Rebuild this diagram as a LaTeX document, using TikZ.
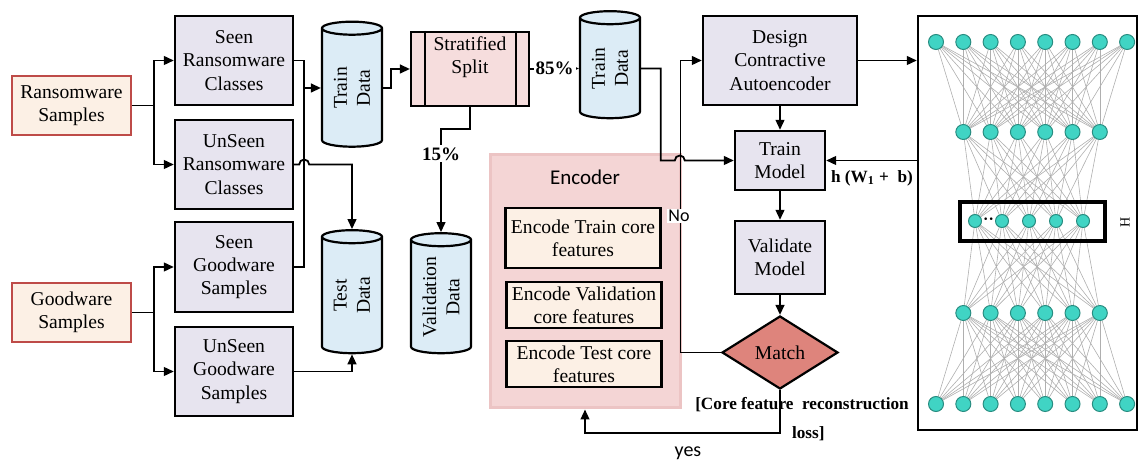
\documentclass[tikz,border=0pt]{standalone}
\usepackage{fontspec}
\setmainfont{Liberation Serif}
\newfontfamily\calfont{Carlito}
\usetikzlibrary{shapes.geometric,arrows.meta,calc,backgrounds}
\definecolor{lav}{RGB}{231,228,239}
\definecolor{peach}{RGB}{252,240,229}
\definecolor{redb}{RGB}{190,75,72}
\definecolor{cylb}{RGB}{220,236,246}
\definecolor{splitpink}{RGB}{246,221,221}
\definecolor{matchred}{RGB}{222,132,124}
\definecolor{encpink}{RGB}{244,213,213}
\definecolor{encedge}{RGB}{236,196,196}
\definecolor{neuron}{RGB}{64,212,196}
\definecolor{neuronb}{RGB}{40,140,128}
\definecolor{edgegray}{RGB}{175,175,175}
\begin{document}
\begin{tikzpicture}[x=0.5pt,y=-0.5pt,
 font=\fontsize{9.8}{11.6}\selectfont,
 wire/.style={line width=0.9pt},
 conn/.style={line width=0.9pt,-{Triangle[length=5pt,width=4.4pt]}},
 pbox/.style={draw=black,line width=1.2pt,fill=lav,align=center,inner sep=0pt,minimum width=59pt},
 src/.style={draw=redb,line width=1.1pt,fill=peach,align=center,inner sep=0pt,minimum width=59.5pt,minimum height=29.5pt},
 cyl/.style={cylinder,shape border rotate=90,draw=black,line width=1.1pt,fill=cylb,aspect=0.25,inner sep=0pt,minimum width=30pt},
 cyltext/.style={rotate=90,align=center,inner sep=0pt},
 ebox/.style={draw=black,line width=1.1pt,fill=peach,align=center,inner sep=0pt,minimum width=77.5pt},
 neu/.style={circle,draw=neuronb,line width=0.5pt,fill=neuron,inner sep=0pt,minimum size=7.5pt},
 neus/.style={neu,minimum size=6.5pt},
 syn/.style={draw=edgegray,line width=0.3pt},
 lbl/.style={font=\fontsize{9.5}{11}\selectfont\bfseries},
]
\useasboundingbox (0,0) rectangle (1146,464);

% left column
\node[src] (ransom) at (71.5,105.5) {Ransomware\\Samples};
\node[src] (good) at (71.5,312.5) {Goodware\\Samples};
\node[pbox,minimum height=44.5pt] (seenR) at (234,60.5) {Seen\\Ransomware\\Classes};
\node[pbox,minimum height=44.5pt] (unseenR) at (234,164.5) {UnSeen\\Ransomware\\Classes};
\node[pbox,minimum height=45pt] (seenG) at (234,267) {Seen\\Goodware\\Samples};
\node[pbox,minimum height=44.5pt] (unseenG) at (234,371.5) {UnSeen\\Goodware\\Samples};

% data
\node[cyl,minimum height=62.5pt] (train1) at (352,88) {\hspace*{26pt}};
\node[cyltext] (train1T) at (train1.center) {Train\\Data};
\node[cyl,minimum height=61.5pt] (test) at (352,295.5) {\hspace*{26pt}};
\node[cyltext] (testT) at (test.center) {Test\\Data};
\node[draw=black,line width=1.1pt,fill=splitpink,minimum width=59pt,minimum height=37pt,inner sep=0pt] (split) at (470,69) {};
\draw[line width=1.1pt] ($(split.north west)+(15,0)$) -- ($(split.south west)+(15,0)$);
\draw[line width=1.1pt] ($(split.north east)+(-14,0)$) -- ($(split.south east)+(-14,0)$);
\node[align=center] (splitT) at (470,57) {Stratified\\Split};
\node[cyl,minimum height=53.5pt] (train2) at (610,68.5) {\hspace*{26pt}};
\node[cyltext] (train2T) at (train2.center) {Train\\Data};
\node[cyl,minimum height=60pt] (valid) at (441,297) {\hspace*{26pt}};
\node[cyltext] (validT) at (valid.center) {Validation\\Data};

% encoder
\node[fill=encpink,draw=encedge,line width=1.5pt,minimum width=95pt,minimum height=126.5pt,inner sep=0pt] (enc) at (585,281.5) {};
\node[font=\calfont\fontsize{10.5}{12}\selectfont] (encT) at (585,177) {Encoder};
\node[ebox,minimum height=30pt] (enc1) at (583,238) {Encode Train core\\features};
\node[ebox,minimum height=23pt] (enc2) at (584,305) {Encode Validation\\core features};
\node[ebox,minimum height=23pt] (enc3) at (584,364) {Encode Test core\\features};

% model column
\node[pbox,minimum width=77pt,minimum height=44.5pt] (design) at (780,60.5) {Design\\Contractive\\Autoencoder};
\node[pbox,minimum width=45pt,minimum height=29.5pt] (trainM) at (780,160.5) {Train\\Model};
\node[pbox,minimum width=45pt,minimum height=36.5pt] (validM) at (780,257.5) {Validate\\Model};
\node[diamond,draw=black,line width=1.1pt,fill=matchred,minimum width=58pt,minimum height=36.5pt,inner sep=0pt] (match) at (780,352.5) {Match};

% network
\node[draw=black,line width=1.2pt,minimum width=109.5pt,minimum height=207pt,inner sep=0pt] (nn) at (1027.5,223) {};
\node[draw=black,line width=1.6pt,minimum width=72.5pt,minimum height=19.5pt,inner sep=0pt] (bneck) at (1032.5,221.5) {};
\foreach \i in {0,...,7} {
  \node[neu] (a\i) at (936+27.3*\i,42) {};
  \node[neu] (e\i) at (936+27.3*\i,404) {};
}
\foreach \i in {1,...,6} {
  \node[neu] (b\i) at (936+27.3*\i,132) {};
  \node[neu] (d\i) at (936+27.3*\i,313) {};
}
\foreach \i in {0,...,4} {
  \node[neus] (c\i) at (975+27*\i,221) {};
}
\begin{scope}[on background layer]
\foreach \i in {0,...,7} \foreach \j in {1,...,6} {
  \draw[syn] (a\i) -- (b\j);
  \draw[syn] (e\i) -- (d\j);
}
\foreach \i in {1,...,6} \foreach \j in {0,...,4} {
  \draw[syn] (b\i) -- (c\j);
  \draw[syn] (d\i) -- (c\j);
}
\end{scope}
\node[inner sep=0pt,font=\fontsize{8}{8}\selectfont\bfseries] (dots) at (988.5,221) {··};
\node[rotate=90,font=\fontsize{7}{7}\selectfont] (Hlab) at (1125,222) {H};

% connectors
\draw[conn] (ransom.east) -- ++(22,0) |- (seenR.west);
\draw[conn] (ransom.east) -- ++(22,0) |- (unseenR.west);
\draw[conn] (good.east) -- ++(22,0) |- (seenG.west);
\draw[conn] (good.east) -- ++(22,0) |- (unseenG.west);
\draw[wire] (seenR.east) -- ++(10,0) coordinate (busR) |- (seenG.east);
\draw[conn] (busR |- train1.west) -- (train1.west);
\draw[conn] (unseenR.east) -- ++(5,0) arc[start angle=180,end angle=0,radius=2.5pt] -| (test.north);
\draw[conn] (unseenG.east) -| (test.south);
\draw[conn] (train1.east) -- ++(8,0) |- (split.west);
\draw[conn] (split.east) -- node[fill=white,lbl,inner sep=1pt]{85\%} (train2.west);
\draw[conn] (split.south) -- ++(0,22) -| node[pos=0.62,fill=white,lbl,inner sep=1pt]{15\%} (valid.north);
\coordinate (c1) at ($(trainM.west)+(-73,0)$);
\draw[conn] (train2.east) -| (c1) -- ++(14,0) arc[start angle=180,end angle=0,radius=2.5pt] -- (trainM.west);
\draw[conn] (match.west) -- ++(-40.5,0) |- (design.west);
\node[font=\calfont\fontsize{9}{10}\selectfont,fill=white,inner sep=0.8pt] (no) at (679,216) {No};
\draw[conn] (design.south) -- (trainM.north);
\draw[conn] (trainM.south) -- (validM.north);
\draw[conn] (validM.south) -- (match.north);
\draw[conn] (design.east) -- (design.east -| nn.west);
\draw[conn] (nn.west |- trainM.east) -- (trainM.east);
\node[lbl,font=\fontsize{8.6}{10}\selectfont\bfseries] (hw) at (872,178) {h (W\textsubscript{1} + \ b)};
\draw[conn] (match.south) -- ++(0,43) -| (enc.south);
\node[font=\fontsize{8.6}{10}\selectfont\bfseries] (loss1) at (802,405) {[Core feature \ reconstruction};
\node[font=\fontsize{8.6}{10}\selectfont\bfseries,anchor=west] (loss2) at (785,434) {loss]};
\node[font=\calfont\fontsize{10}{11}\selectfont] (yes) at (688,453) {yes};
\end{tikzpicture}
\end{document}
